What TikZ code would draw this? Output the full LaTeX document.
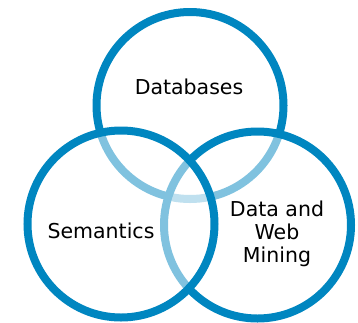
\documentclass[tikz,border=0pt]{standalone}
\usepackage{fontspec}
\setmainfont{DejaVu Sans}
\usetikzlibrary{positioning}
\definecolor{vennblue}{RGB}{0,134,192}

\begin{document}
\begin{tikzpicture}[x=1pt, y=-1pt,
			set/.style={shape=circle,
				draw=vennblue,
				line width=8pt,
				fill=white,
				fill opacity=0.5,
				inner sep=0,
			minimum size=187pt},
			field/.style ={align=center, inner sep=0, font=\fontsize{20.5}{23}\selectfont}]
			
			\useasboundingbox (0,0) rectangle (358,322);
			
			% drawn from back to front
			\node[set] at (190, 105.5) (db){};
			\node[set] at (257.5, 225) (dm){};
			\node[set] at (121, 224) (sem){};
			
			\node[field, anchor=base] at (189, 94) (dbt){Databases};
			\node[field, anchor=base] at (101, 238) (semt){Semantics};
			\node[field] at (277, 234) (dmt){Data and\\Web\\Mining};
		\end{tikzpicture}
\end{document}
